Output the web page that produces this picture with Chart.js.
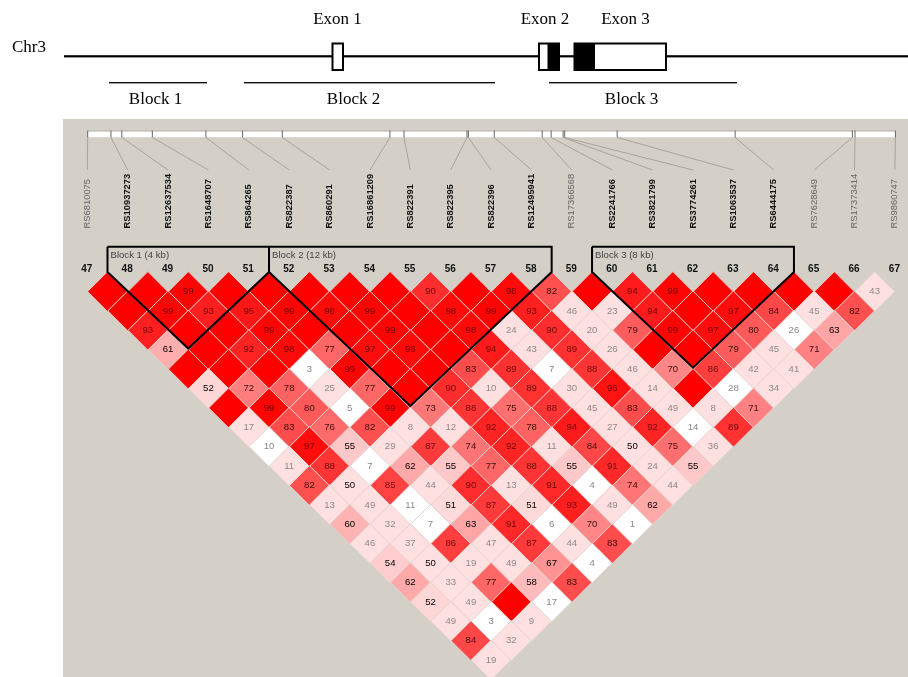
<!DOCTYPE html>
<html>
<head>
<meta charset="utf-8">
<title>LD plot Chr3</title>
<script src="https://cdn.jsdelivr.net/npm/chart.js@4/dist/chart.umd.min.js"></script>
<style>
  html, body { margin: 0; padding: 0; background: #fff; }
  canvas { display: block; }
</style>
</head>
<body>
<canvas id="ldChart" width="908" height="677"></canvas>
<script>
// Marker numbers, names and positions along the region (kb)
const markerNumbers = [47, 48, 49, 50, 51, 52, 53, 54, 55, 56, 57, 58, 59, 60, 61, 62, 63, 64, 65, 66, 67];
const markerNames = ['RS6810075', 'RS10937273', 'RS12637534', 'RS1648707', 'RS864265', 'RS822387', 'RS860291',
    'RS16861209', 'RS822391', 'RS822395', 'RS822396', 'RS12495941', 'RS17366568', 'RS2241766', 'RS3821799',
    'RS3774261', 'RS1063537', 'RS6444175', 'RS7628649', 'RS17373414', 'RS9860747'];
const untaggedMarkers = ['RS6810075', 'RS17366568', 'RS7628649', 'RS17373414', 'RS9860747'];
const markerKb = [0, 0.99, 1.45, 2.75, 5.03, 6.59, 8.28, 12.86, 13.46, 16.14, 16.2, 17.3, 19.34, 19.72, 20.23,
    20.3, 22.53, 27.55, 32.54, 32.65, 34.37];

// D' values, one array per distance between markers. 100 is drawn as a red cell with no number
const ldRow1 = [100, 100, 99, 100, 100, 100, 100, 100, 90, 100, 98, 82, 100, 94, 99, 100, 100, 100, 100, 43];
const ldRow2 = [100, 99, 93, 95, 99, 98, 99, 100, 98, 99, 93, 46, 23, 94, 100, 97, 84, 45, 82];
const ldRow3 = [93, 100, 100, 99, 100, 100, 99, 100, 98, 24, 90, 20, 79, 99, 97, 80, 26, 63];
const ldRow4 = [61, 100, 92, 98, 77, 97, 98, 100, 94, 43, 89, 26, 100, 100, 79, 45, 71];
const ldRow5 = [100, 100, 100, 3, 99, 100, 100, 83, 89, 7, 88, 46, 70, 86, 42, 41];
const ldRow6 = [52, 72, 78, 25, 77, 100, 90, 10, 89, 30, 96, 14, 100, 28, 34];
const ldRow7 = [100, 99, 80, 5, 99, 73, 88, 75, 88, 45, 83, 49, 8, 71];
const ldRow8 = [17, 83, 76, 82, 8, 12, 92, 78, 94, 27, 92, 14, 89];
const ldRow9 = [10, 97, 55, 29, 87, 74, 92, 11, 84, 50, 75, 36];
const ldRow10 = [11, 88, 7, 62, 55, 77, 88, 55, 91, 24, 55];
const ldRow11 = [82, 50, 85, 44, 90, 13, 91, 4, 74, 44];
const ldRow12 = [13, 49, 11, 51, 87, 51, 93, 49, 62];
const ldRow13 = [60, 32, 7, 63, 91, 6, 70, 1];
const ldRow14 = [46, 37, 86, 47, 87, 44, 83];
const ldRow15 = [54, 50, 19, 49, 67, 4];
const ldRow16 = [62, 33, 77, 58, 83];
const ldRow17 = [52, 49, 100, 17];
const ldRow18 = [49, 3, 9];
const ldRow19 = [84, 32];
const ldRow20 = [19];
const ldRows = [ldRow1, ldRow2, ldRow3, ldRow4, ldRow5, ldRow6, ldRow7, ldRow8, ldRow9, ldRow10,
    ldRow11, ldRow12, ldRow13, ldRow14, ldRow15, ldRow16, ldRow17, ldRow18, ldRow19, ldRow20];

// Cells that stay white, as "distance:index"
const whiteCells = ['3:16', '5:3', '5:9', '6:13', '7:3', '8:11', '9:0', '10:2', '11:7', '12:2', '13:2', '13:5',
    '13:7', '15:5', '17:3', '18:1'];

// Haplotype blocks, in marker units
const blockNames = ['Block 1 (4 kb)', 'Block 2 (12 kb)', 'Block 3 (8 kb)'];
const blockStart = [0.5, 4.5, 12.5];
const blockEnd = [4.5, 11.5, 17.5];

// Gene track along the top
const exonNames = ['Exon 1', 'Exon 2', 'Exon 3'];
const exonLabelAt = [337.5, 545, 625.5];
const exonStart = [332.5, 539, 574.5];
const exonEnd = [343, 559, 666];
const exonCodingStart = [0, 547.5, 574.5];
const exonCodingEnd = [0, 559, 595];
const trackBlockNames = ['Block 1', 'Block 2', 'Block 3'];
const trackBlockStart = [109, 244, 549];
const trackBlockEnd = [207, 495, 737];
const trackBlockLabelAt = [155.5, 353.5, 631.5];

function cellColor(distance, index, value) {
    if (whiteCells.includes(distance + ':' + index)) return '#ffffff';
    if (value <= 50) return 'rgb(255, 224, 224)';
    const shade = Math.round((100 - value) * 4.45);
    return 'rgb(255, ' + shade + ', ' + shade + ')';
}

const cells = [];
ldRows.forEach(function (row, r) {
    row.forEach(function (value, i) {
        cells.push({ x: i + (r + 1) / 2, y: r + 1, value: value, color: cellColor(r + 1, i, value) });
    });
});

function blockOutline(b) {
    const top = -1.31;
    const width = blockEnd[b] - blockStart[b];
    return [
        { x: blockStart[b], y: top },
        { x: blockEnd[b], y: top },
        { x: blockEnd[b], y: 0 },
        { x: (blockStart[b] + blockEnd[b]) / 2, y: width * 0.985 },
        { x: blockStart[b], y: 0 },
        { x: blockStart[b], y: top }
    ];
}

function drawText(ctx, text, x, y, font, color, align) {
    ctx.font = font;
    ctx.fillStyle = color;
    ctx.textAlign = align || 'center';
    ctx.textBaseline = 'middle';
    ctx.fillText(text, x, y);
}

const backdrop = {
    id: 'backdrop',
    beforeDatasetsDraw(chart) {
        const ctx = chart.ctx;
        const g = chart.scales.xGene;
        const kb = chart.scales.xKb;
        const serif = '17px "Liberation Serif"';
        ctx.save();

        // panel behind the LD plot
        ctx.fillStyle = '#d4d0c8';
        ctx.fillRect(g.getPixelForValue(63), 119, g.getPixelForValue(908) - g.getPixelForValue(63), 558);

        // chromosome line and exons
        ctx.fillStyle = '#000';
        ctx.fillRect(g.getPixelForValue(64), 55.2, g.getPixelForValue(908) - g.getPixelForValue(64), 2.2);
        exonNames.forEach(function (name, e) {
            const x1 = g.getPixelForValue(exonStart[e]);
            const x2 = g.getPixelForValue(exonEnd[e]);
            ctx.fillStyle = '#fff';
            ctx.fillRect(x1, 43.5, x2 - x1, 26.5);
            if (exonCodingEnd[e] > 0) {
                ctx.fillStyle = '#000';
                ctx.fillRect(g.getPixelForValue(exonCodingStart[e]), 43.5, exonCodingEnd[e] - exonCodingStart[e], 26.5);
            }
            ctx.strokeStyle = '#000';
            ctx.lineWidth = 2;
            ctx.strokeRect(x1, 43.5, x2 - x1, 26.5);
            drawText(ctx, name, g.getPixelForValue(exonLabelAt[e]), 20, serif, '#000');
        });
        drawText(ctx, 'Chr3', g.getPixelForValue(29), 48, serif, '#000');

        // block bars under the gene
        trackBlockNames.forEach(function (name, b) {
            const x1 = g.getPixelForValue(trackBlockStart[b]);
            const x2 = g.getPixelForValue(trackBlockEnd[b]);
            ctx.fillStyle = '#111';
            ctx.fillRect(x1, 82, x2 - x1, 1.4);
            drawText(ctx, name, g.getPixelForValue(trackBlockLabelAt[b]), 99.5, serif, '#000');
        });

        // region bar with one tick per marker
        const barLeft = kb.getPixelForValue(markerKb[0]);
        const barRight = kb.getPixelForValue(markerKb[markerKb.length - 1]);
        ctx.fillStyle = '#bdb9b2';
        ctx.fillRect(barLeft, 130.5, barRight - barLeft, 1.2);
        ctx.fillStyle = '#fff';
        ctx.fillRect(barLeft, 131.7, barRight - barLeft, 5.5);

        markerKb.forEach(function (pos, m) {
            const tickX = kb.getPixelForValue(pos);
            const labelX = chart.scales.x.getPixelForValue(m);
            ctx.fillStyle = '#6a6762';
            ctx.fillRect(tickX - 0.5, 130.5, 1, 7);
            ctx.strokeStyle = '#a8a49d';
            ctx.lineWidth = 1;
            ctx.beginPath();
            ctx.moveTo(tickX, 137.5);
            ctx.lineTo(labelX, 170);
            ctx.stroke();

            const plain = untaggedMarkers.includes(markerNames[m]);
            ctx.save();
            ctx.translate(labelX, 228.5);
            ctx.rotate(-Math.PI / 2);
            drawText(ctx, markerNames[m], 0, 0, (plain ? '' : 'bold ') + '9.4px "Liberation Sans"',
                plain ? '#666' : '#111', 'left');
            ctx.restore();

            drawText(ctx, String(markerNumbers[m]), labelX - 0.5, 269, 'bold 10px "Liberation Sans"', '#111');
        });

        blockNames.forEach(function (name, b) {
            drawText(ctx, name, chart.scales.x.getPixelForValue(blockStart[b]) + 3, 255.5,
                '9.6px "Liberation Sans"', '#444', 'left');
        });
        ctx.restore();
    },
    afterDatasetsDraw(chart) {
        const ctx = chart.ctx;
        const points = chart.getDatasetMeta(0).data;
        ctx.save();
        cells.forEach(function (cell, c) {
            if (cell.value === 100) return;
            let color = '#000';
            if (cell.value < 50) color = '#8c8888';
            else if (cell.value >= 85) color = 'rgba(70, 0, 0, 0.8)';
            else if (cell.value >= 70) color = '#3a1010';
            drawText(ctx, String(cell.value), points[c].x, points[c].y, '9.6px "Liberation Sans"', color);
        });
        ctx.restore();
    }
};

const datasets = [{
    label: 'D prime',
    data: cells,
    pointStyle: 'rectRot',
    pointRadius: 19.9,
    pointBorderWidth: 1,
    pointBorderColor: 'rgba(225, 212, 208, 0.9)',
    pointBackgroundColor: cells.map(function (c) { return c.color; }),
    showLine: false,
    order: 2
}];
blockNames.forEach(function (name, b) {
    datasets.push({
        label: name,
        data: blockOutline(b),
        showLine: true,
        borderColor: '#000',
        borderWidth: 2,
        pointRadius: 0,
        order: 1
    });
});

new Chart(document.getElementById('ldChart').getContext('2d'), {
    type: 'scatter',
    data: { datasets: datasets },
    plugins: [backdrop],
    options: {
        responsive: false,
        animation: false,
        layout: { padding: 0, autoPadding: false },
        plugins: { legend: { display: false }, tooltip: { enabled: false } },
        scales: {
            x: { display: false, min: -87.3 / 40.38, max: (908 - 87.3) / 40.38 },
            y: { display: false, reverse: true, min: -272.1 / 19.4, max: (677 - 272.1) / 19.4 },
            xKb: { display: false, axis: 'x', min: -87.7 / 23.5, max: (908 - 87.7) / 23.5 },
            xGene: { display: false, axis: 'x', min: 0, max: 908 }
        }
    }
});
</script>
</body>
</html>
